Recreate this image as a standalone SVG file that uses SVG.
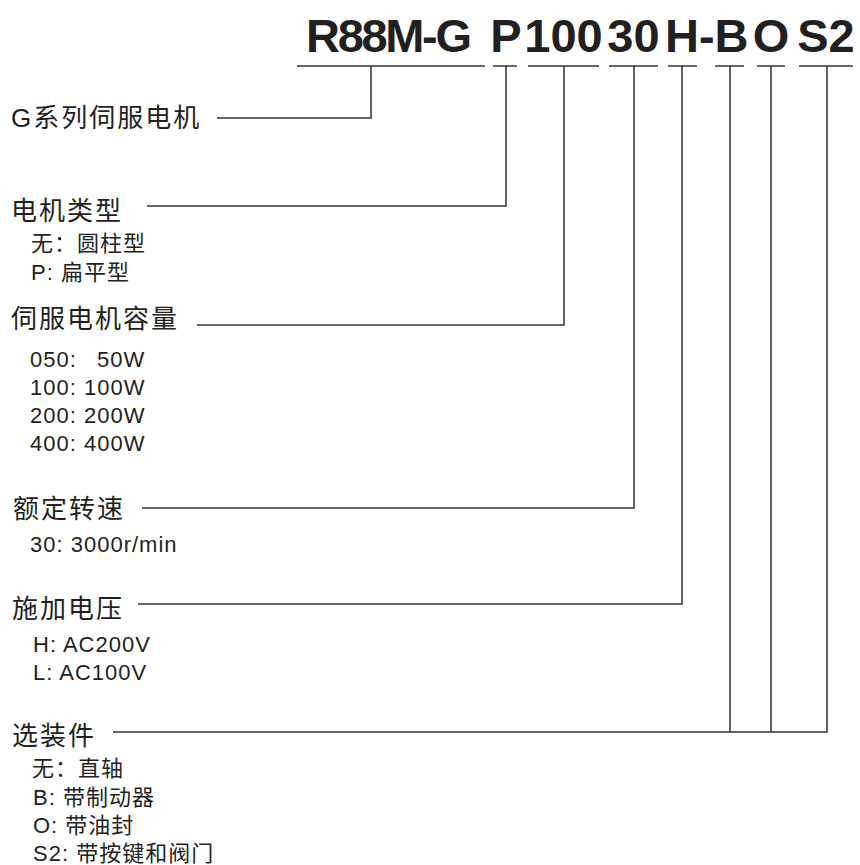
<svg xmlns="http://www.w3.org/2000/svg" width="860" height="865" viewBox="0 0 860 865">
<style>
.t{font-family:"Liberation Sans","Noto Sans CJK SC",sans-serif;fill:#231f20;font-weight:bold;font-size:47px}
.m{font-family:"Liberation Sans","Noto Sans CJK SC",sans-serif;fill:#231f20;font-size:26px;letter-spacing:2px}
.s{font-family:"Liberation Sans","Noto Sans CJK SC",sans-serif;fill:#231f20;font-size:22px;letter-spacing:1px}
.c line,.c polyline{stroke:#333;stroke-width:1.5;fill:none}
</style>
<rect width="860" height="865" fill="#fff"/>
<g id="title">
<text class="t" x="306" y="52" textLength="166" lengthAdjust="spacing">R88M-G</text>
<text class="t" x="506" y="52" text-anchor="middle">P</text>
<text class="t" x="563.5" y="52" text-anchor="middle">100</text>
<text class="t" x="633.5" y="52" text-anchor="middle">30</text>
<text class="t" x="665" y="52">H-B</text>
<text class="t" x="771" y="52" text-anchor="middle">O</text>
<text class="t" x="826" y="52" text-anchor="middle">S2</text>
</g>
<g class="c" id="connectors">
<line x1="297" y1="66" x2="485" y2="66"/>
<line x1="493" y1="66" x2="517" y2="66"/>
<line x1="528" y1="66" x2="599" y2="66"/>
<line x1="609" y1="66" x2="658" y2="66"/>
<line x1="668" y1="66" x2="697" y2="66"/>
<line x1="715" y1="66" x2="744" y2="66"/>
<line x1="757" y1="66" x2="785" y2="66"/>
<line x1="799" y1="66" x2="853" y2="66"/>
<polyline points="371,66 371,118 217,118"/>
<polyline points="506,66 506,206 147,206"/>
<polyline points="564,66 564,325 197,325"/>
<polyline points="634,66 634,508 142,508"/>
<polyline points="682,66 682,604 138,604"/>
<polyline points="827,66 827,732 113,732"/>
<line x1="730" y1="66" x2="730" y2="732"/>
<line x1="771" y1="66" x2="771" y2="732"/>
</g>
<g id="series">
<text class="m" x="11" y="127">G系列伺服电机</text>
</g>
<g id="type">
<text class="m" x="11" y="220">电机类型</text>
<text class="s" x="31" y="251">无：圆柱型</text>
<text class="s" x="31" y="280">P: 扁平型</text>
</g>
<g id="capacity">
<text class="m" x="11" y="328">伺服电机容量</text>
<text class="s" x="30" y="367">050:<tspan x="97">50W</tspan></text>
<text class="s" x="30" y="395">100: 100W</text>
<text class="s" x="30" y="423">200: 200W</text>
<text class="s" x="30" y="451">400: 400W</text>
</g>
<g id="speed">
<text class="m" x="13" y="518">额定转速</text>
<text class="s" x="30" y="552">30: 3000r/min</text>
</g>
<g id="voltage">
<text class="m" x="12" y="618">施加电压</text>
<text class="s" x="33" y="652">H: AC200V</text>
<text class="s" x="33" y="680">L: AC100V</text>
</g>
<g id="options">
<text class="m" x="12" y="745">选装件</text>
<text class="s" x="32" y="776">无：直轴</text>
<text class="s" x="33" y="805">B: 带制动器</text>
<text class="s" x="33" y="833">O: 带油封</text>
<text class="s" x="33" y="861">S2: 带按键和阀门</text>
</g>
</svg>
